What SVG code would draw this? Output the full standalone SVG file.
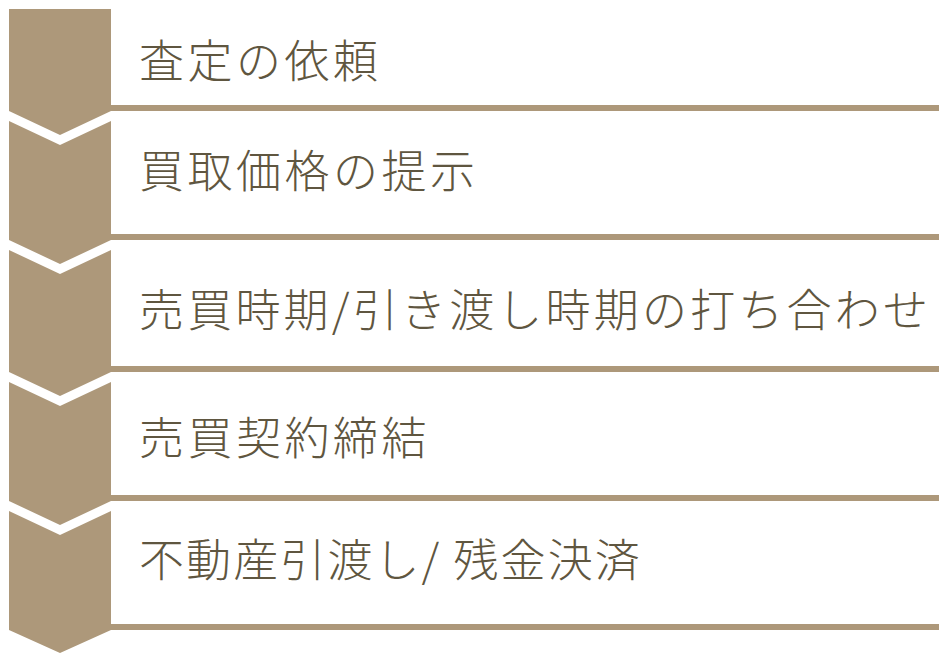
<svg xmlns="http://www.w3.org/2000/svg" width="939" height="663" viewBox="0 0 939 663">
<style>
.blk{fill:#ad987a}
.ln{stroke:#ad987a;stroke-width:6}
.t{font-family:"Noto Sans CJK JP","Noto Sans",sans-serif;font-size:45px;font-weight:300;letter-spacing:3.5px;fill:#5f5640}
</style>
<rect width="939" height="663" fill="#ffffff"/>
<g id="step1">
<polygon class="blk" points="9,9 111,9 111,111 60,135 9,111"/>
<line class="ln" x1="111" y1="108" x2="939" y2="108"/>
<text class="t" x="139" y="78">査定の依頼</text>
</g>
<g id="step2">
<polygon class="blk" points="9,121 60,145 111,121 111,240 60,264 9,240"/>
<line class="ln" x1="111" y1="237" x2="939" y2="237"/>
<text class="t" x="139" y="188">買取価格の提示</text>
</g>
<g id="step3">
<polygon class="blk" points="9,250 60,274 111,250 111,372 60,396 9,372"/>
<line class="ln" x1="111" y1="369" x2="939" y2="369"/>
<text class="t" x="139" y="327" style="letter-spacing:3.2px">売買時期/引き渡し時期の打ち合わせ</text>
</g>
<g id="step4">
<polygon class="blk" points="9,382 60,406 111,382 111,501 60,525 9,501"/>
<line class="ln" x1="111" y1="498" x2="939" y2="498"/>
<text class="t" x="139" y="455">売買契約締結</text>
</g>
<g id="step5">
<polygon class="blk" points="9,511 60,535 111,511 111,630 60,653 9,630"/>
<line class="ln" x1="111" y1="627" x2="939" y2="627"/>
<text class="t" x="139" y="577" style="letter-spacing:2.1px">不動産引渡し/ 残金決済</text>
</g>
<g id="connectors"></g>
</svg>
